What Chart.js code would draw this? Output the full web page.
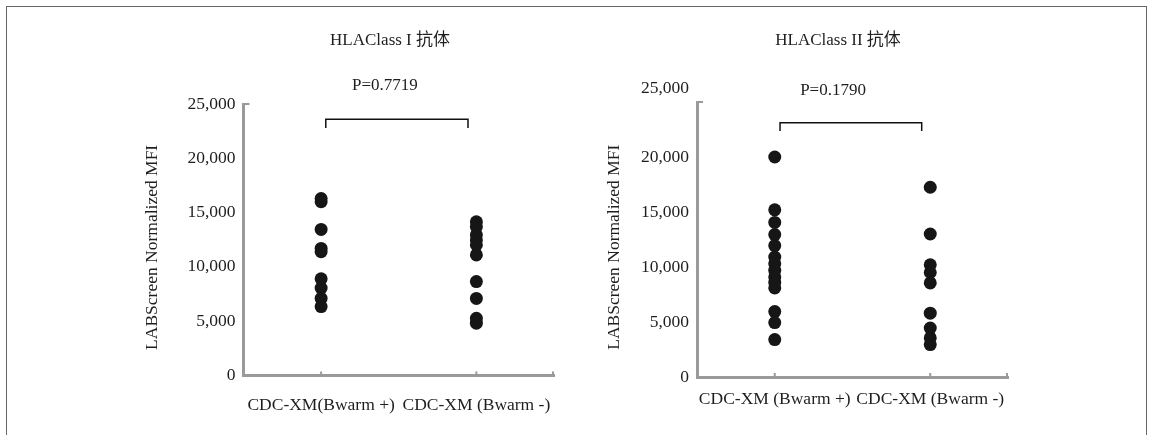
<!DOCTYPE html>
<html><head><meta charset="utf-8">
<script src="https://cdn.jsdelivr.net/npm/chart.js@4"></script>
<style>
html,body{margin:0;padding:0;background:#fff;}
#wrap{position:relative;width:1150px;height:435px;overflow:hidden;background:#fff;}
#frame{position:absolute;left:6px;top:6px;width:1141px;height:460px;border:1.5px solid #666;box-sizing:border-box;}
canvas{position:absolute;left:0;top:0;}
</style></head><body>
<div id="wrap"><div id="frame"></div>
<canvas id="c1" width="1150" height="435"></canvas>
<canvas id="c2" width="1150" height="435"></canvas></div>
<script>
// ---- data ----
const categoriesI = ['CDC-XM(Bwarm +)', 'CDC-XM (Bwarm -)'];
const categoriesII = ['CDC-XM (Bwarm +)', 'CDC-XM (Bwarm -)'];
const yTicks = [0, 5000, 10000, 15000, 20000, 25000];
const classI_pos = [16300, 16000, 13450, 11700, 11400, 8900, 8050, 7100, 6350];
const classI_neg = [14150, 13700, 12950, 12480, 12020, 11100, 8650, 7100, 5270, 4820];
const classII_pos = [20000, 15200, 14050, 12950, 11950, 10900, 10300, 9700, 9100, 8600, 8100, 5950, 4950, 3400];
const classII_neg = [17250, 13000, 10200, 9500, 8550, 5800, 4450, 3550, 2950];
const titleI = 'HLAClass I 抗体';
const titleII = 'HLAClass II 抗体';
const pI = 'P=0.7719';
const pII = 'P=0.1790';
const yTitle = 'LABScreen Normalized MFI';

const FONT = "'Liberation Serif', 'Noto Sans CJK SC', serif";
const TXT = '#1e1e1e';
const AX = '#9a9a9a';
const DOT = '#161616';

const annot = {
  id: 'annot',
  afterDraw(chart, args, o) {
    const {ctx, chartArea: a, scales: {x, y}} = chart;
    ctx.save();
    ctx.fillStyle = TXT;
    ctx.font = '17px ' + FONT;
    ctx.textAlign = 'center';
    ctx.textBaseline = 'middle';
    ctx.fillText(o.title, x.getPixelForValue(o.titleX), y.getPixelForValue(o.titleY));
    ctx.fillText(o.p, x.getPixelForValue(o.pX), y.getPixelForValue(o.pY));
    // y-axis title
    ctx.save();
    ctx.translate(a.left + o.yTitleDx, y.getPixelForValue(o.yTitleY));
    ctx.rotate(-Math.PI / 2);
    ctx.font = '17.5px ' + FONT;
    ctx.fillText(yTitle, 0, 0);
    ctx.restore();
    // special top label
    if (o.topLabel) {
      ctx.textAlign = 'right';
      ctx.font = '17.5px ' + FONT;
      ctx.fillText(o.topLabel, a.left - 8, y.getPixelForValue(25000) + o.topLabelDy);
    }
    // bracket
    ctx.strokeStyle = '#111';
    ctx.lineWidth = 1.5;
    const bx0 = x.getPixelForValue(o.bx0), bx1 = x.getPixelForValue(o.bx1);
    const byT = y.getPixelForValue(o.byTop), byL = y.getPixelForValue(o.byLeg);
    ctx.beginPath();
    ctx.moveTo(bx0, byL); ctx.lineTo(bx0, byT); ctx.lineTo(bx1, byT); ctx.lineTo(bx1, byL);
    ctx.stroke();
    // axis ticks (inward)
    ctx.strokeStyle = AX;
    ctx.lineWidth = 2;
    ctx.beginPath();
    [0, 1].forEach(v => { const px = x.getPixelForValue(v); ctx.moveTo(px, a.bottom); ctx.lineTo(px, a.bottom - 4); });
    ctx.moveTo(a.right - 1, a.bottom); ctx.lineTo(a.right - 1, a.bottom - 4);
    ctx.moveTo(a.left, a.top); ctx.lineTo(a.left + 6, a.top);
    ctx.stroke();
    ctx.restore();
  }
};

function makeChart(id, cats, pos, neg, padding, xH, xPad, anno, hideTop) {
  const pts = (arr, xi) => arr.map(v => ({x: xi, y: v}));
  return new Chart(document.getElementById(id), {
    type: 'scatter',
    data: {
      datasets: [
        {data: pts(pos, 0), backgroundColor: DOT, borderColor: DOT, pointRadius: 6.5, borderWidth: 0},
        {data: pts(neg, 1), backgroundColor: DOT, borderColor: DOT, pointRadius: 6.5, borderWidth: 0}
      ]
    },
    options: {
      responsive: false,
      animation: false,
      events: [],
      layout: {padding: padding},
      plugins: {legend: {display: false}, tooltip: {enabled: false}, annot: anno},
      scales: {
        x: {
          type: 'linear', min: -0.5, max: 1.5,
          afterBuildTicks: s => { s.ticks = [{value: 0}, {value: 1}]; },
          afterFit: s => { s.height = xH; },
          grid: {display: false, drawTicks: false},
          border: {color: AX, width: 3},
          ticks: {callback: v => cats[v], font: {family: FONT, size: 17.5}, color: TXT, padding: xPad, maxRotation: 0, autoSkip: false}
        },
        y: {
          min: 0, max: 25000,
          afterBuildTicks: s => { s.ticks = yTicks.map(v => ({value: v})); },
          afterFit: s => { s.width = 113.5; },
          grid: {display: false, drawTicks: false},
          border: {color: AX, width: 3},
          ticks: {
            callback: v => (hideTop && v === 25000) ? '' : v.toLocaleString('en-US'),
            font: {family: FONT, size: 17.5}, color: TXT, padding: 8
          }
        }
      }
    },
    plugins: [annot]
  });
}

makeChart('c1', categoriesI, classI_pos, classI_neg,
  {left: 130, right: 596, top: 104, bottom: 0}, 59.5, 19,
  {title: titleI, titleX: 0.444, titleY: 30830, p: pI, pX: 0.411, pY: 26660,
   bx0: 0.03, bx1: 0.946, byTop: 23590, byLeg: 22790, yTitleDx: -91, yTitleY: 11800}, false);

makeChart('c2', categoriesII, classII_pos, classII_neg,
  {left: 583.5, right: 142, top: 102, bottom: 0}, 58, 12,
  {title: titleII, titleX: 0.407, titleY: 30570, p: pII, pX: 0.375, pY: 26000,
   bx0: 0.034, bx1: 0.945, byTop: 23120, byLeg: 22360, yTitleDx: -83, yTitleY: 11800,
   topLabel: '25,000', topLabelDy: -14}, true);
</script>
</body></html>
